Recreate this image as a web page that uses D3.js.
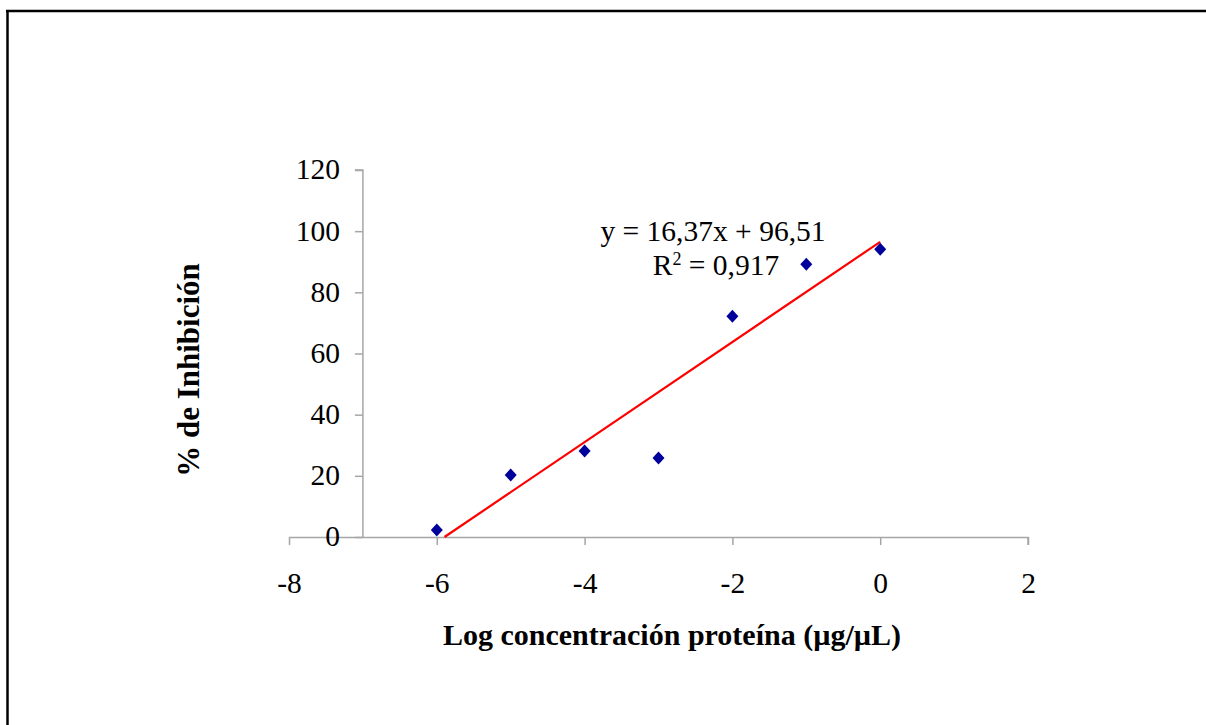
<!DOCTYPE html>
<html>
<head>
<meta charset="utf-8">
<script src="https://cdn.jsdelivr.net/npm/d3@7/dist/d3.min.js"></script>
<style>
  html, body { margin: 0; padding: 0; background: #fff; }
  svg { display: block; }
  text { font-family: "Liberation Serif", "Times New Roman", serif; fill: #000; }
</style>
</head>
<body>
<svg id="chart" width="1206" height="725"></svg>
<script>
// ---- data ----
const logConc = [-6, -5, -4, -3, -2, -1, 0];
const inhibition = [2.3, 20.3, 28.1, 25.8, 72.2, 89.2, 94.1];
const xTicks = [-8, -6, -4, -2, 0, 2];
const yTicks = [0, 20, 40, 60, 80, 100, 120];
const slope = 16.37;
const intercept = 96.51;
const equationLines = ["y = 16,37x + 96,51", "R² = 0,917"];
const xTitle = "Log concentración proteína (µg/µL)";
const yTitle = "% de Inhibición";

const svg = d3.select("#chart");

// outer frame (top and left edges)
svg.append("line").attr("x1", 6).attr("x2", 1206).attr("y1", 11).attr("y2", 11)
  .attr("stroke", "#000").attr("stroke-width", 2.5);
svg.append("line").attr("x1", 7.5).attr("x2", 7.5).attr("y1", 10).attr("y2", 725)
  .attr("stroke", "#000").attr("stroke-width", 2.5);

const x = d3.scaleLinear().domain([-8, 2]).range([289, 1028]);
const y = d3.scaleLinear().domain([0, 120]).range([537, 170]);
const axisColor = "#a6a6a6";
const tickFont = 29.5;

// x axis
const xAxis = svg.append("g").attr("transform", `translate(0,${y(0)})`)
  .call(d3.axisBottom(x).tickValues(xTicks).tickSize(8).tickPadding(27)
    .tickFormat(d => d < 0 ? "-" + Math.abs(d) : String(d)));
xAxis.select(".domain").attr("stroke", axisColor).attr("stroke-width", 1.5).attr("d", `M${x(-8)},0.5V0.5H${x(2)}V8`);
xAxis.selectAll(".tick line").attr("stroke", axisColor).attr("stroke-width", 1.5);
xAxis.selectAll(".tick text").attr("font-size", tickFont).attr("font-family", "Liberation Serif").attr("fill", "#000");

// y axis crossing at x = -7
const yAxis = svg.append("g").attr("transform", `translate(${x(-7)},0)`)
  .call(d3.axisLeft(y).tickValues(yTicks).tickSize(8).tickPadding(15));
yAxis.select(".domain").attr("stroke", axisColor).attr("stroke-width", 1.5).attr("d", `M-8,${y(120)}H0V${y(0)}`);
yAxis.selectAll(".tick line").attr("stroke", axisColor).attr("stroke-width", 1.5);
yAxis.selectAll(".tick text").attr("font-size", tickFont).attr("font-family", "Liberation Serif").attr("fill", "#000")
  .attr("dy", "0.3em");

// trend line from y=0 to x=0
const x0 = -intercept / slope;
svg.append("line")
  .attr("x1", x(x0)).attr("y1", y(0))
  .attr("x2", x(0)).attr("y2", y(intercept))
  .attr("stroke", "#ff0000").attr("stroke-width", 2.2);

// markers
const pts = logConc.map((d, i) => ({ x: d, y: inhibition[i] }));
svg.append("g").selectAll("path").data(pts).enter().append("path")
  .attr("d", "M0,-6.5L6,0L0,6.5L-6,0Z")
  .attr("transform", d => `translate(${x(d.x)},${y(d.y)})`)
  .attr("fill", "#00009a");

// equation
const eq = svg.append("g");
eq.append("text").attr("x", 713).attr("y", 241).attr("text-anchor", "middle")
  .attr("font-size", 29.5).text(equationLines[0]);
const r2 = eq.append("text").attr("x", 716).attr("y", 275).attr("text-anchor", "middle")
  .attr("font-size", 29.5);
r2.append("tspan").text("R");
r2.append("tspan").attr("font-size", 18).attr("dy", -10).text("2");
r2.append("tspan").attr("dy", 10).text(" = 0,917");

// axis titles
svg.append("text").attr("x", 672).attr("y", 645).attr("text-anchor", "middle")
  .attr("font-size", 30).attr("font-weight", "bold").text(xTitle);
svg.append("text").attr("transform", "translate(199,370) rotate(-90)").attr("text-anchor", "middle")
  .attr("font-size", 31).attr("font-weight", "bold").text(yTitle);
</script>
</body>
</html>
